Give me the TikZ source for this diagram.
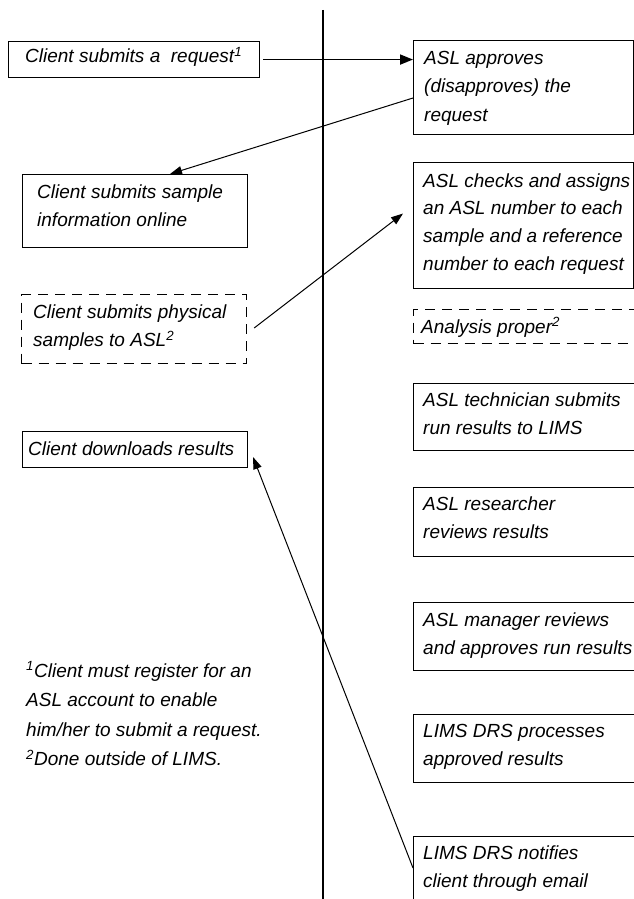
\documentclass[tikz,border=0pt]{standalone}
\usepackage{fontspec}
\setmainfont{Liberation Sans}
\usetikzlibrary{arrows.meta,calc}
\begin{document}
\begin{tikzpicture}[x=1pt,y=-1pt,
  box/.style={draw, line width=1.1pt, rectangle, inner sep=0pt, anchor=north west},
  dbox/.style={box, dash pattern=on 10pt off 7pt},
  txt/.style={anchor=base west, inner sep=0pt, font=\fontsize{19}{28.8}\selectfont\itshape},
  conn/.style={line width=1pt, -{Triangle[length=12pt,width=8.5pt]}},
  lane/.style={line width=2pt}
]
\useasboundingbox (0,0) rectangle (634,899);
% swimlane divider
\coordinate (top) at (323,10);
\coordinate (bot) at (323,899);
\draw[lane] (top) -- (bot);

% boxes
\node[box, minimum width=251pt, minimum height=36pt] (b1) at (8,41) {};
\node[box, minimum width=220pt, minimum height=94pt] (b2) at (413,40) {};
\node[box, minimum width=225pt, minimum height=73pt] (b3) at (22,174) {};
\node[dbox, minimum width=225pt, minimum height=69pt] (b4) at (21,294) {};
\node[box, minimum width=220pt, minimum height=126pt] (b5) at (413,162) {};
\node[dbox, minimum width=240pt, minimum height=34pt] (b6) at (413,309) {};
\node[box, minimum width=240pt, minimum height=67pt] (b7) at (413,383) {};
\node[box, minimum width=240pt, minimum height=69pt] (b8) at (413,487) {};
\node[box, minimum width=240pt, minimum height=68pt] (b9) at (413,602) {};
\node[box, minimum width=240pt, minimum height=68pt] (b10) at (413,714) {};
\node[box, minimum width=240pt, minimum height=80pt] (b11) at (413,836) {};
\node[box, minimum width=225pt, minimum height=36pt] (b12) at (22,431) {};

% texts
\node[txt] (t1) at (25,63) {Client submits a~ request\textsuperscript{1}};
\node[txt] (t2) at (424,64) {\parbox[t]{300pt}{ASL approves\\(disapproves) the\\request}};
\node[txt] (t3) at (37,198) {\parbox[t]{300pt}{Client submits sample\\information online}};
\node[txt] (t4) at (33,318) {\parbox[t]{300pt}{Client submits physical\\samples to ASL\textsuperscript{2}}};
\node[txt, font=\fontsize{19}{27.7}\selectfont\itshape] (t5) at (423,187) {\parbox[t]{300pt}{ASL checks and assigns\\an ASL number to each\\sample and a reference\\number to each request}};
\node[txt] (t6) at (421,333) {Analysis proper\textsuperscript{2}};
\node[txt] (t7) at (423,406) {\parbox[t]{300pt}{ASL technician submits\\run results to LIMS}};
\node[txt] (t8) at (423,510) {\parbox[t]{300pt}{ASL researcher\\reviews results}};
\node[txt] (t9) at (423,626) {\parbox[t]{300pt}{ASL manager reviews\\and approves run results}};
\node[txt] (t10) at (423,737) {\parbox[t]{300pt}{LIMS DRS processes\\approved results}};
\node[txt] (t11) at (423,859) {\parbox[t]{300pt}{LIMS DRS notifies\\client through email}};
\node[txt] (t12) at (28,455) {Client downloads results};
\node[txt, font=\fontsize{19}{29.5}\selectfont\itshape] (foot) at (26,677) {\parbox[t]{300pt}{\textsuperscript{1}Client must register for an\\ASL account to enable\\him/her to submit a request.\\\textsuperscript{2}Done outside of LIMS.}};

% connectors
\draw[conn, line width=1.8pt, -{Triangle[length=13pt,width=10pt]}, shorten <=3pt] (b1.east) -- (b1.east -| b2.west);
\draw[conn] ($(b2.north west)+(0,58)$) -- ($(b3.north west)+(148,0)$);
\draw[conn] ($(b4.east)+(7,-1)$) -- ($(b5.west)+(-10,-12)$);
\draw[conn] ($(b11.north west)+(0,32)$) -- ($(b12.south east)+(5,-11)$);
\end{tikzpicture}
\end{document}
